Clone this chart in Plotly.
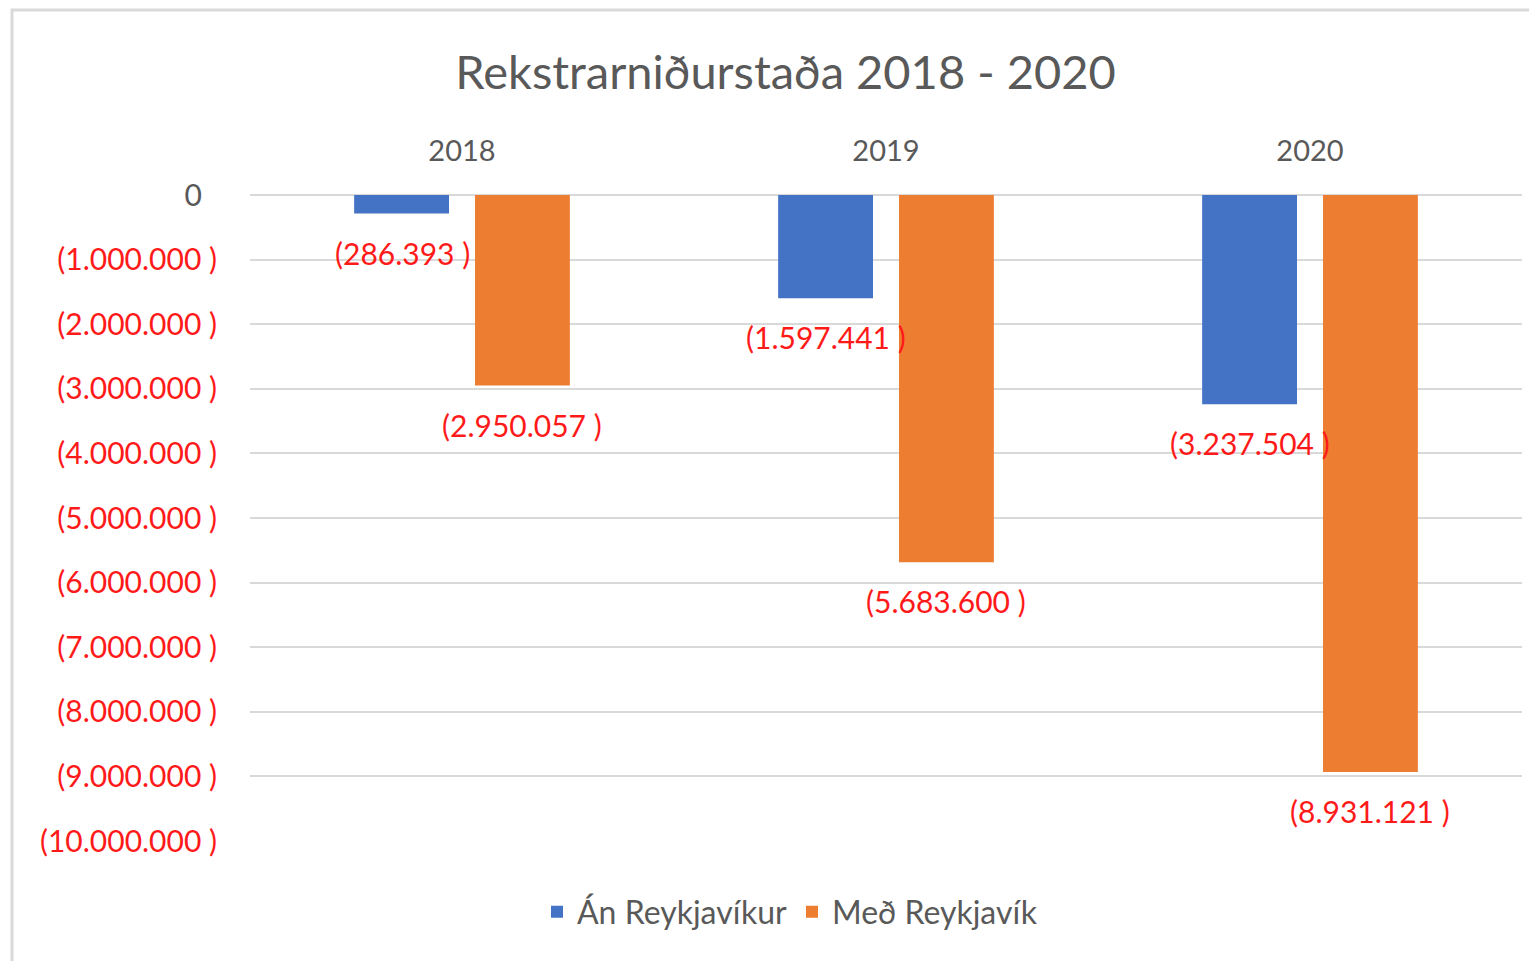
import plotly.graph_objects as go

# ---- data ----
years = ["2018", "2019", "2020"]
an_reykjavikur = [-286393, -1597441, -3237504]
med_reykjavik = [-2950057, -5683600, -8931121]
series_names = ["Án Reykjavíkur", "Með Reykjavík"]
tick_values = [0, -1000000, -2000000, -3000000, -4000000, -5000000,
               -6000000, -7000000, -8000000, -9000000, -10000000]

BLUE = "#4472C4"
ORANGE = "#ED7D31"
RED = "#FF1A1A"
GRAY = "#595959"
FONT = "Lato, 'Open Sans', sans-serif"


def fmt(v):
    if v == 0:
        return "0"
    s = f"{abs(int(v)):,}".replace(",", ".")
    return f"({s} )" if v < 0 else s


def tick_label(v):
    if v == 0:
        return "0\u2002"  # padded like the Excel number format
    return f"<span style='color:{RED}'>{fmt(v)}</span>"


OFF = 8  # page body margin
W, H = 1537 - OFF, 961 - OFF
# plot area in screen pixels: x 250..1522, y 195..841
L, T = 250 - OFF, 195 - OFF
R = W - (1522 - OFF)
B = H - (841 - OFF)

fig = go.Figure()
fig.add_trace(go.Bar(x=years, y=an_reykjavikur, name=series_names[0],
                     marker=dict(color=BLUE, line=dict(width=0))))
fig.add_trace(go.Bar(x=years, y=med_reykjavik, name=series_names[1],
                     marker=dict(color=ORANGE, line=dict(width=0))))

annotations = []
for vals, shift in ((an_reykjavikur, -60), (med_reykjavik, 60)):
    for i, v in enumerate(vals):
        annotations.append(dict(
            x=i, y=v, xref="x", yref="y", text=fmt(v), showarrow=False,
            xshift=shift, yshift=-39, yanchor="middle", xanchor="center",
            font=dict(family=FONT, size=30, color=RED)))

plot_w = W - L - R
plot_h = H - T - B
# chart-area border (light grey frame of the original Excel chart)
border = dict(type="rect", xref="paper", yref="paper",
              x0=(12 - 250) / plot_w, x1=(1537 + 20 - 250) / plot_w,
              y0=(841 - 990) / plot_h, y1=(841 - 10) / plot_h,
              line=dict(color="#D9D9D9", width=3), fillcolor="rgba(0,0,0,0)",
              layer="below")

fig.update_layout(
    width=W, height=H,
    margin=dict(l=L, r=R, t=T, b=B, autoexpand=False),
    paper_bgcolor="white", plot_bgcolor="white",
    barmode="group", bargap=0.43, bargroupgap=0.215,
    title=dict(text="Rekstrarniðurstaða 2018 - 2020",
               font=dict(family=FONT, size=47, color=GRAY),
               xref="container", yref="container",
               x=(785.5 - OFF) / W, xanchor="center",
               y=1 - (73 - OFF) / H, yanchor="middle"),
    font=dict(family=FONT, color=GRAY),
    xaxis=dict(type="category", range=[-0.5, len(years) - 0.5],
               side="top", showgrid=False, showline=False,
               ticks="", tickfont=dict(family=FONT, size=29, color=GRAY),
               ticklabelstandoff=27, zeroline=False),
    yaxis=dict(range=[-10000000, 0], tickvals=tick_values,
               ticktext=[tick_label(v) for v in tick_values],
               tickfont=dict(family=FONT, size=30, color=GRAY),
               showgrid=True, gridcolor="#D9D9D9", gridwidth=2,
               zeroline=True, zerolinecolor="#D9D9D9", zerolinewidth=2,
               showline=False, ticks="", ticklabelstandoff=32),
    legend=dict(orientation="h", xref="paper", yref="paper",
                x=(790 - 250) / plot_w, xanchor="center",
                y=(841 - 912) / plot_h, yanchor="middle",
                font=dict(family=FONT, size=32, color=GRAY),
                itemwidth=30, traceorder="normal"),
    annotations=annotations,
    shapes=[border],
)

fig.write_html("out.html")
